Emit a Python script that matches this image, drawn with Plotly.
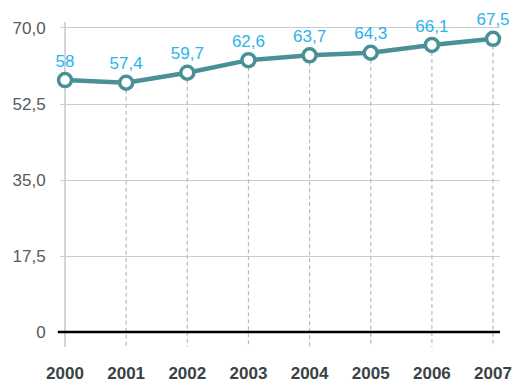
import plotly.graph_objects as go

years = [2000, 2001, 2002, 2003, 2004, 2005, 2006, 2007]
values = [58, 57.4, 59.7, 62.6, 63.7, 64.3, 66.1, 67.5]
y_ticks = [0, 17.5, 35, 52.5, 70]
y_tick_labels = ["0", "17,5", "35,0", "52,5", "70,0"]

LINE = "#4a9097"
LABEL = "#2ab4ea"
Y_MIN, Y_MAX = -3.45, 71.38

def fmt(v):
    return (f"{v:g}").replace(".", ",")

fig = go.Figure()

# dashed drop lines from each point down past the baseline
drop_x, drop_y = [], []
for x, v in zip(years[1:], values[1:]):
    drop_x += [x, x, None]
    drop_y += [v, Y_MIN, None]
fig.add_trace(go.Scatter(
    x=drop_x, y=drop_y, mode="lines",
    line=dict(color="#b4bcc2", width=1.2, dash="4px,3px"),
    hoverinfo="skip", showlegend=False,
))

fig.add_trace(go.Scatter(
    x=years, y=values, mode="lines+markers+text",
    line=dict(color=LINE, width=4.5),
    marker=dict(size=13, color="white", line=dict(color=LINE, width=3.5)),
    text=[fmt(v) for v in values],
    textposition="top center",
    textfont=dict(color=LABEL, size=17, family="Liberation Sans"),
    cliponaxis=False,
    showlegend=False,
))

shapes = [
    # left axis line at the first year
    dict(type="line", xref="x", yref="paper", x0=years[0], x1=years[0], y0=0, y1=1,
         line=dict(color="#c3c9ce", width=1.5), layer="below"),
    # zero baseline
    dict(type="line", xref="paper", yref="y", x0=-0.005, x1=1, y0=0, y1=0,
         line=dict(color="black", width=2.5)),
]

fig.update_layout(
    width=523, height=382,
    margin=dict(l=60, r=23, t=22, b=35),
    paper_bgcolor="white", plot_bgcolor="white",
    shapes=shapes,
    font=dict(family="Liberation Sans"),
    xaxis=dict(
        range=[1999.918, 2007.114],
        tickvals=years, ticktext=[str(y) for y in years],
        showgrid=False, zeroline=False, showline=False, automargin=False,
        ticks="outside", ticklen=11, tickcolor="rgba(0,0,0,0)",
        tickfont=dict(size=17, color="#3b4245", family="Liberation Sans", weight="bold"),
    ),
    yaxis=dict(
        range=[Y_MIN, Y_MAX],
        tickvals=y_ticks, ticktext=y_tick_labels,
        showgrid=True, gridcolor="#c8cdd2", gridwidth=1.2,
        zeroline=False, showline=False, automargin=False,
        ticks="outside", ticklen=10, tickcolor="rgba(0,0,0,0)",
        tickfont=dict(size=17, color="#555b5e", family="Liberation Sans"),
    ),
)

fig.write_html("out.html")
